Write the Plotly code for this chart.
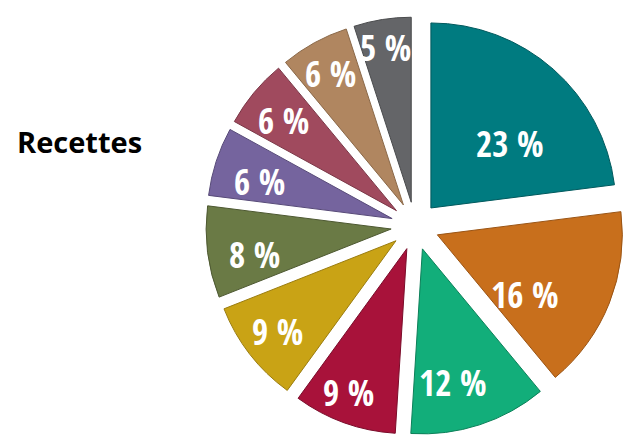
import math
import plotly.graph_objects as go

# ---- data ----
categories = ["Catégorie 1", "Catégorie 2", "Catégorie 3", "Catégorie 4", "Catégorie 5",
              "Catégorie 6", "Catégorie 7", "Catégorie 8", "Catégorie 9", "Catégorie 10"]
values = [23, 16, 12, 9, 9, 8, 6, 6, 6, 5]
labels_text = [f"{v} %" for v in values]
title_text = "Recettes"

# ---- style ----
colors = ["#007B80", "#C86F1C", "#12AE7A", "#A8123A", "#C9A315",
          "#6A7A45", "#75649E", "#A04A5E", "#B08660", "#646568"]
edge_colors = ["#00595D", "#9A5414", "#0C8059", "#7A0C2A", "#9A7C0F",
               "#4D5831", "#574A78", "#7A3646", "#8A6848", "#4A4B4D"]
pulls = [0.13] * len(values)
# label placement: distance from pie centre (in radii) and small angular nudge (deg)
label_radius = [0.68, 0.70, 0.87, 0.97, 0.94, 0.88, 0.875, 0.91, 0.945, 0.975]
label_shift = [7.8, 10.5, 4.3, 1.8, 0.3, -3.0, -2.2, -0.9, -0.2, -0.3]

W, H = 625, 439
cx, cy, r = 415, 226, 185
half = r * (1 + max(pulls))

fig = go.Figure(go.Pie(
    labels=categories,
    values=values,
    text=labels_text,
    textinfo="none",
    sort=False,
    direction="clockwise",
    rotation=0,
    pull=pulls,
    marker=dict(colors=colors, line=dict(width=1, color=edge_colors)),
    hoverinfo="label+text",
    showlegend=False,
    domain=dict(x=[(cx - half) / W, (cx + half) / W],
                y=[1 - (cy + half) / H, 1 - (cy - half) / H]),
))

# slice labels, placed from the data (cumulative share -> mid angle)
total = sum(values)
cum = 0
for v, t, lr, sh in zip(values, labels_text, label_radius, label_shift):
    mid = 360.0 * (cum + v / 2) / total + sh
    cum += v
    a = math.radians(mid)
    px = cx + lr * r * math.sin(a)
    py = cy - lr * r * math.cos(a)
    fig.add_annotation(
        text=t, xref="paper", yref="paper", x=px / W, y=1 - py / H,
        xanchor="center", yanchor="middle", showarrow=False,
        font=dict(family="Open Sans Condensed, Roboto Condensed, DejaVu Sans Condensed, sans-serif",
                  size=35, color="white", weight="bold"),
    )

fig.add_annotation(
    text=f"<b>{title_text}</b>", xref="paper", yref="paper",
    x=15 / W, y=1 - 141 / H, xanchor="left", yanchor="middle",
    showarrow=False, font=dict(family="Open Sans, Noto Sans, sans-serif", size=29, color="black"),
)

fig.update_layout(
    width=W, height=H,
    margin=dict(l=0, r=0, t=0, b=0),
    paper_bgcolor="white", plot_bgcolor="white",
)

fig.write_html("out.html", config={"displayModeBar": False},
               post_script="document.body.style.margin='0';")
